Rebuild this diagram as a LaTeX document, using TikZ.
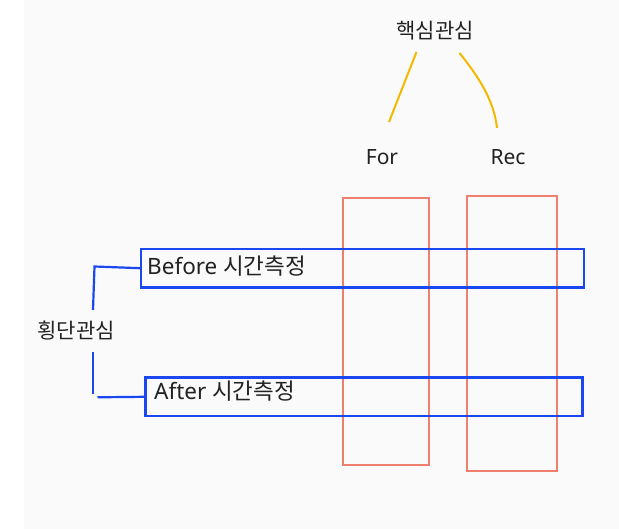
\documentclass[tikz,border=0pt]{standalone}
\usepackage{fontspec}
\setmainfont{Noto Sans}
\newfontfamily\kr{Noto Sans CJK KR}
\definecolor{bgc}{HTML}{FAFAFA}
\definecolor{redc}{HTML}{EE7F6E}
\definecolor{bluec}{HTML}{1A47F0}
\definecolor{yelc}{HTML}{F5B800}
\definecolor{txt}{HTML}{222222}
\begin{document}
\begin{tikzpicture}[x=1pt,y=-1pt,
  redbox/.style={draw=redc,line width=2pt,rectangle,inner sep=0pt},
  bluebox/.style={draw=bluec,line width=2.4pt,rectangle,inner sep=0pt},
  lbl/.style={text=txt,inner sep=0pt,font=\fontsize{21}{24}\selectfont},
  biglbl/.style={text=txt,inner sep=0pt,anchor=west,font=\fontsize{22.5}{26}\selectfont},
  yline/.style={draw=yelc,line width=2pt},
  bline/.style={draw=bluec,line width=2.2pt}]
\useasboundingbox (0,0) rectangle (619,529);
\fill[white] (0,0) rectangle (619,529);
\fill[bgc] (24,0) rectangle (619,529);
% red columns
\node[redbox,minimum width=86.5pt,minimum height=267pt] (forbox) at (386,331.5) {};
\node[redbox,minimum width=89.5pt,minimum height=274.5pt] (recbox) at (512,333.5) {};
% blue rows
\node[bluebox,minimum width=443pt,minimum height=38.5pt] (beforebox) at (362.7,268.2) {};
\node[bluebox,minimum width=437pt,minimum height=38.8pt] (afterbox) at (363.8,396.8) {};
% texts
\node[lbl] (core) at (435,31) {\kr 핵심관심};
\node[lbl] (for) at (382,157) {For};
\node[lbl] (rec) at (508,157) {Rec};
\node[lbl] (cross) at (76,331) {\kr 횡단관심};
\node[biglbl] (beforetxt) at (147,266) {Before {\kr 시간측정}};
\node[biglbl] (aftertxt) at (154,391) {After {\kr 시간측정}};
% yellow connectors
\coordinate (fa) at (416.5,52);
\coordinate (fb) at (389,122);
\coordinate (ra) at (459.5,53);
\coordinate (rb) at (497,128);
\draw[yline] (fa) -- (fb);
\draw[yline] (ra) .. controls (478,76) and (494,100) .. (rb);
% blue bracket
\coordinate (b1) at (94.5,266.5);
\coordinate (b2) at (93,310);
\coordinate (b3) at (93,352.5);
\coordinate (b4) at (93,394);
\coordinate (b5) at (97.5,397.3);
\draw[bline] (beforebox.west) -- (b1) -- (b2);
\draw[bline] (b3) -- (b4);
\draw[bline] (b5) -- (afterbox.west);
\end{tikzpicture}
\end{document}
